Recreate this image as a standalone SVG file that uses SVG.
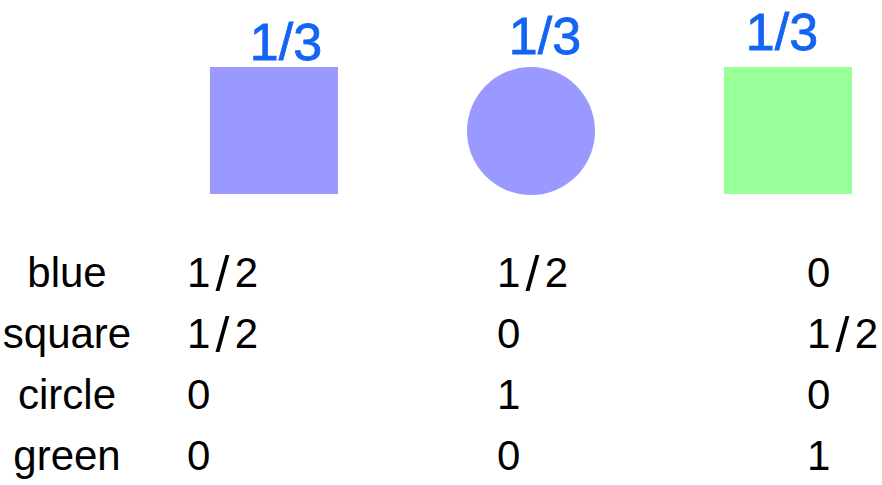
<svg xmlns="http://www.w3.org/2000/svg" width="882" height="485" viewBox="0 0 882 485">
<style>
.t{font-family:"Liberation Sans",Arial,sans-serif;font-size:42px;fill:#000}
.l{text-anchor:middle}
.s{font-size:50px}
.h{font-family:"Liberation Sans",Arial,sans-serif;font-size:52px;fill:#1464f4;stroke:#1464f4;stroke-width:0.8;text-anchor:middle}
</style>
<rect width="882" height="485" fill="#fff"/>
<g id="blue-square"><rect x="210" y="67" width="128" height="127" fill="#9999ff"/><text class="h" x="286" y="60">1/3</text></g>
<g id="blue-circle"><circle cx="531" cy="131" r="64" fill="#9999ff"/><text class="h" x="545" y="54">1/3</text></g>
<g id="green-square"><rect x="724" y="67" width="128" height="127" fill="#99ff99"/><text class="h" x="782" y="50">1/3</text></g>
<g id="table">
<text class="t l" x="67" y="287">blue</text>
<text class="t l" x="67" y="348">square</text>
<text class="t l" x="67" y="409">circle</text>
<text class="t l" x="67" y="470">green</text>
<text class="t" x="187" y="287" textLength="71">1<tspan class="s" dy="4">/</tspan><tspan dy="-4">2</tspan></text>
<text class="t" x="187" y="348" textLength="71">1<tspan class="s" dy="4">/</tspan><tspan dy="-4">2</tspan></text>
<text class="t" x="187" y="409">0</text>
<text class="t" x="187" y="470">0</text>
<text class="t" x="497" y="287" textLength="71">1<tspan class="s" dy="4">/</tspan><tspan dy="-4">2</tspan></text>
<text class="t" x="497" y="348">0</text>
<text class="t" x="497" y="409">1</text>
<text class="t" x="497" y="470">0</text>
<text class="t" x="807" y="287">0</text>
<text class="t" x="807" y="348" textLength="71">1<tspan class="s" dy="4">/</tspan><tspan dy="-4">2</tspan></text>
<text class="t" x="807" y="409">0</text>
<text class="t" x="807" y="470">1</text>
</g>
</svg>
